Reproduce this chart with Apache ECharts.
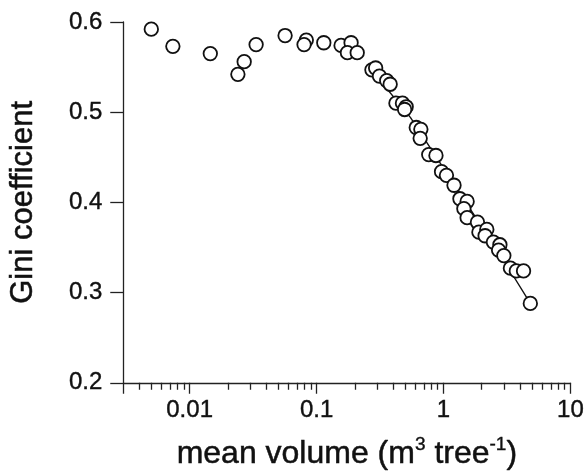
<!DOCTYPE html>
<html>
<head>
<meta charset="utf-8">
<script src="https://cdn.jsdelivr.net/npm/echarts@6/dist/echarts.min.js"></script>
<style>html,body{margin:0;padding:0;background:#fff}#chart{width:587px;height:475px}</style>
</head>
<body>
<div id="chart"></div>
<script>
var volume = [0.00499,0.00738,0.01455,0.0240,0.0269,0.0334,0.0565,0.0830,0.0797,0.114,0.156,0.187,0.175,0.209,
  0.273,0.292,0.313,0.357,0.380,0.422,0.475,0.508,0.494,0.610,0.663,0.655,0.765,0.872,0.965,1.055,1.210,
  1.347,1.535,1.447,1.535,1.851,1.901,2.193,2.127,2.472,2.781,2.717,2.987,3.366,3.747,4.27,4.83];
var gini = [0.592,0.573,0.565,0.542,0.556,0.575,0.585,0.580,0.575,0.577,0.574,0.577,0.566,0.566,
  0.547,0.549,0.540,0.535,0.531,0.510,0.510,0.506,0.503,0.483,0.481,0.471,0.453,0.452,0.434,0.430,0.419,
  0.404,0.401,0.393,0.383,0.378,0.367,0.370,0.363,0.356,0.353,0.347,0.341,0.327,0.324,0.324,0.288];
var fitVolume = [0.27,0.55,1.5,3.0,4.83];
var fitGini = [0.547,0.494,0.400,0.335,0.288];
var majorTicks = [0.003,0.01,0.1,1,10];
var minorTicks = [0.004,0.005,0.006,0.007,0.008,0.009,0.02,0.03,0.04,0.05,0.06,0.07,0.08,0.09,
  0.2,0.3,0.4,0.5,0.6,0.7,0.8,0.9,2,3,4,5,6,7,8,9];
var xLabels = [0.01,0.1,1,10];

var font = 'Liberation Sans, Arial, Helvetica, sans-serif';
var ink = '#111';
var chart = echarts.init(document.getElementById('chart'), null, {renderer: 'canvas'});
var pts = volume.map(function (v, i) { return [v, gini[i]]; });
var fit = fitVolume.map(function (v, i) { return [v, fitGini[i]]; });

chart.setOption({
  animation: false,
  backgroundColor: '#fff',
  grid: {left: 121, right: 13, top: 22, bottom: 90},
  xAxis: [{
    type: 'log', logBase: 10, min: 0.003, max: 10,
    position: 'bottom',
    name: '{a|mean volume (m}{s|3}{a| tree}{s|-1}{a|)}',
    nameLocation: 'middle', nameGap: 53,
    nameTextStyle: {
      rich: {
        a: {fontFamily: font, fontSize: 32, color: ink, lineHeight: 36, textBorderColor: ink, textBorderWidth: 0.5},
        s: {fontFamily: font, fontSize: 19, color: ink, verticalAlign: 'top', lineHeight: 36, padding: [0,0,8,0], textBorderColor: ink, textBorderWidth: 0.4}
      }
    },
    axisLine: {show: true, lineStyle: {color: '#222', width: 1.3}},
    axisTick: {show: true, length: 11, customValues: majorTicks, lineStyle: {color: '#222', width: 1.3}},
    axisLabel: {customValues: xLabels, margin: 16, fontFamily: font, fontSize: 24, color: ink,
      textBorderColor: ink, textBorderWidth: 0.4,
      formatter: function (v) { return String(v); }},
    splitLine: {show: false}, minorTick: {show: false}, minorSplitLine: {show: false}
  }, {
    type: 'log', logBase: 10, min: 0.003, max: 10,
    position: 'bottom',
    axisLine: {show: false},
    axisTick: {show: true, length: 7, customValues: minorTicks, lineStyle: {color: '#222', width: 1.3}},
    axisLabel: {show: false},
    splitLine: {show: false}
  }],
  yAxis: {
    type: 'value', min: 0.2, max: 0.6, interval: 0.1,
    name: 'Gini coefficient', nameLocation: 'middle', nameGap: 84,
    nameTextStyle: {fontFamily: font, fontSize: 31, color: ink, textBorderColor: ink, textBorderWidth: 0.5},
    axisLine: {show: true, lineStyle: {color: '#222', width: 1.3}},
    axisTick: {show: true, length: 13, lineStyle: {color: '#222', width: 1.3}},
    axisLabel: {margin: 21, fontFamily: font, fontSize: 24, color: ink,
      textBorderColor: ink, textBorderWidth: 0.4,
      formatter: function (v) { return v.toFixed(1); }},
    splitLine: {show: false}
  },
  series: [{
    type: 'line', xAxisIndex: 0, data: fit, symbol: 'none', z: 1,
    lineStyle: {color: ink, width: 1.4}
  }, {
    type: 'scatter', xAxisIndex: 0, data: pts, symbol: 'circle', symbolSize: 13.5, z: 2,
    itemStyle: {color: '#fff', borderColor: ink, borderWidth: 1.8, opacity: 1}
  }]
});
</script>
</body>
</html>
